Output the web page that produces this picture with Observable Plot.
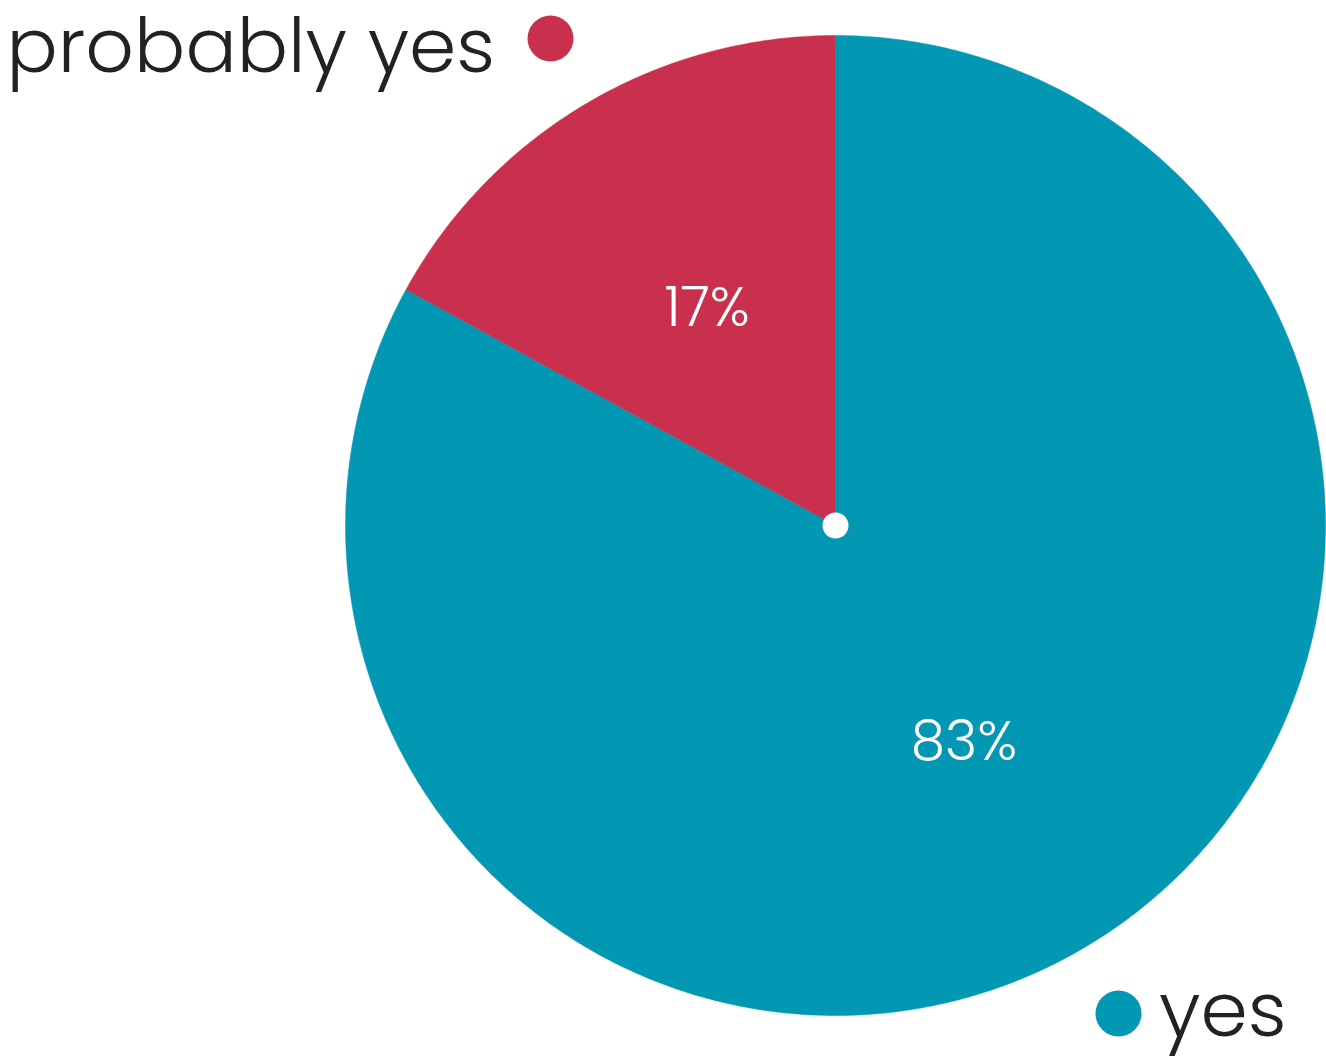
<!DOCTYPE html>
<html>
<head>
<meta charset="utf-8">
<script src="https://cdn.jsdelivr.net/npm/d3@7"></script>
<script src="https://cdn.jsdelivr.net/npm/@observablehq/plot@0.6"></script>
<style>
  html, body { margin: 0; padding: 0; background: #fff; }
  #chart svg { display: block; }
</style>
</head>
<body>
<div id="chart"></div>
<script>
// Data
const categories = ["yes", "probably yes"];
const values = [83, 17];
const colors = ["#0297B2", "#C9304D"];
const valueLabels = ["83%", "17%"];

const W = 1326, H = 1057;
const cx = 835, cy = 525, R = 490;

const slices = d3.pie().sort(null).value(d => d.value)(
  categories.map((c, i) => ({category: c, value: values[i], label: valueLabels[i]}))
);

// Build polygon points (unit radius, y up) from the pie layout
const poly = [];
for (const s of slices) {
  const n = Math.max(4, Math.ceil((s.endAngle - s.startAngle) / (Math.PI / 360)));
  poly.push({category: s.data.category, x: 0, y: 0});
  for (let k = 0; k <= n; k++) {
    const a = s.startAngle + (s.endAngle - s.startAngle) * k / n;
    poly.push({category: s.data.category, x: Math.sin(a), y: Math.cos(a)});
  }
  poly.push({category: s.data.category, x: 0, y: 0});
}
const labelPts = slices.map(s => {
  const a = (s.startAngle + s.endAngle) / 2;
  return {label: s.data.label, x: 0.515 * Math.sin(a), y: 0.515 * Math.cos(a)};
});

const font = "Poppins, Lato, 'Open Sans', sans-serif";

const chart = Plot.plot({
  width: W,
  height: H,
  margin: 0,
  x: {domain: [-cx / R, (W - cx) / R], axis: null},
  y: {domain: [-(H - cy) / R, cy / R], axis: null},
  color: {domain: categories, range: colors},
  style: {fontFamily: font, background: "#fff"},
  marks: [
    Plot.line(poly, {x: "x", y: "y", z: "category", fill: "category", stroke: "category", strokeWidth: 0.5, curve: "linear"}),
    Plot.dot([{x: 0, y: 0}], {x: "x", y: "y", r: 13, fill: "#fff", stroke: "none"}),
    Plot.text(labelPts, {x: "x", y: "y", text: "label", fill: "#fff", fontSize: 55, fontWeight: 300}),
    // legend-like labels
    Plot.text([categories[1]], {frameAnchor: "top-left", dx: 6, dy: 18, text: d => d, textAnchor: "start", fill: "#222", fontSize: 76, fontWeight: 300}),
    Plot.dot([categories[1]], {frameAnchor: "top-left", dx: 550, dy: 38, r: 23, fill: colors[1], stroke: "none"}),
    Plot.text([categories[0]], {frameAnchor: "bottom-right", dx: -40, dy: -22, text: d => d, textAnchor: "end", fill: "#222", fontSize: 76, fontWeight: 300}),
    Plot.dot([categories[0]], {frameAnchor: "bottom-right", dx: -208, dy: -44, r: 23, fill: colors[0], stroke: "none"})
  ]
});
document.getElementById("chart").appendChild(chart);
</script>
</body>
</html>
